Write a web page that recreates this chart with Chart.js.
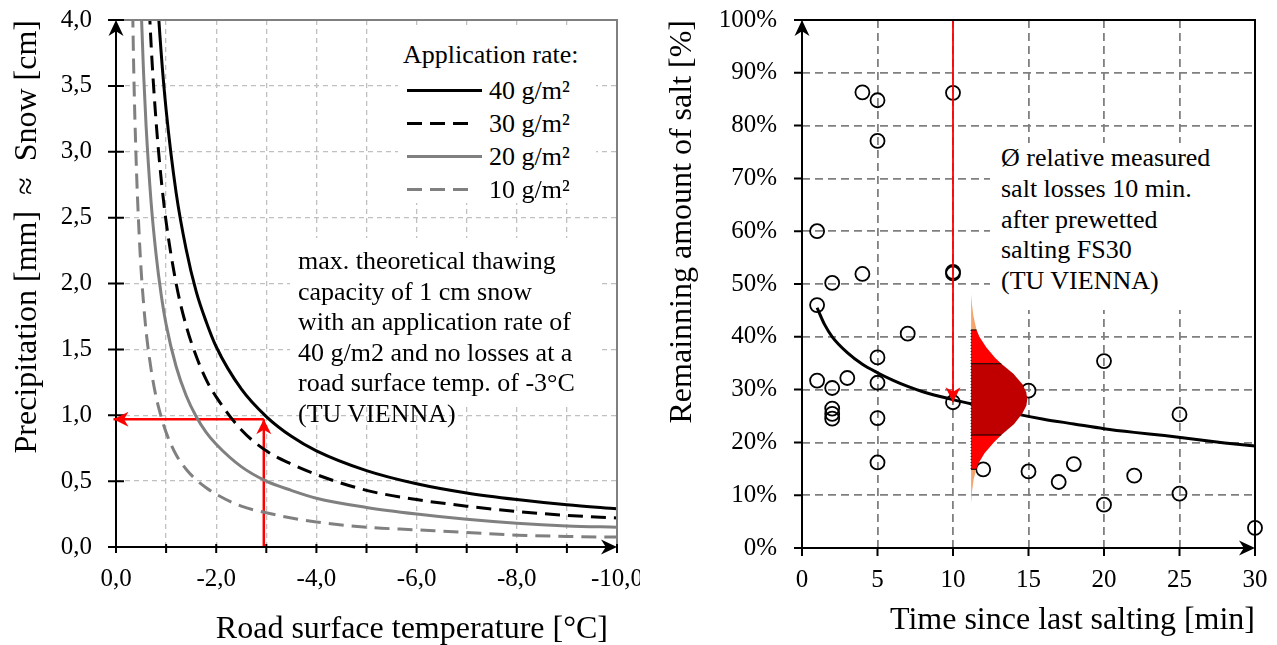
<!DOCTYPE html>
<html lang="en">
<head>
<meta charset="utf-8">
<title>Thawing capacity and salt losses</title>
<script src="https://cdn.jsdelivr.net/npm/chart.js@4.4.1/dist/chart.umd.min.js"></script>
<style>
    body { margin: 0; background: #fff; }
    #page { position: relative; width: 1277px; height: 645px; overflow: hidden;
            font-family: 'Liberation Serif', 'Times New Roman', serif; color: #000; }
    #page canvas { position: absolute; top: 0; }
    #snow-chart { left: 0; }
    #salt-chart { left: 640px; }
    .note { position: absolute; background: #fff; box-sizing: border-box;
            font-size: 26px; line-height: 30.5px; white-space: nowrap; }
    #note-snow { left: 290px; top: 238px; width: 308px; height: 167px; padding: 8px 0 0 8px; }
    #note-salt { left: 990px; top: 143px; width: 262px; height: 167px; padding: 0 0 0 11px; line-height: 30.8px; }
    #legend-rate-container { left: 398px; top: 28px; width: 198px; height: 175px; }
    #legend-rate-container .legend-title { position: absolute; left: 5px; top: 10px; line-height: 33px; }
    #legend-rate-container ul { position: absolute; left: 9px; top: 46px; margin: 0; padding: 0; list-style: none; }
    #legend-rate-container li { display: flex; align-items: center; height: 33px; }
    #legend-rate-container li svg { display: block; }
    #legend-rate-container li span { margin-left: 6px; line-height: 33px; }
    /* the reversed temperature axis puts Chart.js' end-aligned title on the wrong side */
    #snow-x-title { position: absolute; left: 190px; top: 609px; width: 418px; text-align: right;
                    font-size: 32px; line-height: 36px; white-space: nowrap; }
</style>
</head>
<body>
<div id="page">
    <canvas id="snow-chart" width="640" height="645"></canvas>
    <canvas id="salt-chart" width="637" height="645"></canvas>
    <div id="legend-rate-container" class="note">
        <div class="legend-title">Application rate:</div>
        <ul></ul>
    </div>
    <div id="note-snow" class="note">max. theoretical thawing<br>capacity of 1 cm snow<br>with an application rate of<br>40 g/m2 and no losses at a<br>road surface temp. of -3°C<br>(TU VIENNA)</div>
    <div id="note-salt" class="note">Ø relative measured<br>salt losses 10 min.<br>after prewetted<br>salting FS30<br>(TU VIENNA)</div>
    <div id="snow-x-title">Road surface temperature [°C]</div>
</div>
<script>
// ---- left chart: thawing capacity per application rate ----
const roadTemp = [-0.3, -0.35, -0.4, -0.45, -0.5, -0.55, -0.6, -0.7, -0.8, -0.9, -1.0, -1.2, -1.4, -1.6, -1.8,
    -2.0, -2.5, -3.0, -3.5, -4.0, -5.0, -6.0, -7.0, -8.0, -9.0, -10.0];
const snow40 = [null, null, null, null, null, 7.05, 6.27, 5.13, 4.34, 3.76, 3.32, 2.69, 2.26, 1.94, 1.71,
    1.52, 1.20, 0.99, 0.84, 0.73, 0.58, 0.48, 0.41, 0.36, 0.32, 0.29];
const snow30 = [null, null, null, null, 6.00, 5.25, 4.67, 3.82, 3.23, 2.80, 2.47, 2.00, 1.68, 1.45, 1.27,
    1.14, 0.89, 0.73, 0.63, 0.55, 0.43, 0.36, 0.31, 0.27, 0.24, 0.22];
const snow20 = [null, null, 5.76, 4.80, 4.11, 3.60, 3.20, 2.62, 2.22, 1.92, 1.69, 1.37, 1.15, 0.99, 0.87,
    0.78, 0.61, 0.50, 0.43, 0.37, 0.30, 0.25, 0.21, 0.18, 0.16, 0.15];
const snow10 = [4.93, 3.70, 2.96, 2.47, 2.11, 1.85, 1.64, 1.35, 1.14, 0.99, 0.87, 0.70, 0.59, 0.51, 0.45,
    0.40, 0.31, 0.26, 0.22, 0.19, 0.15, 0.13, 0.11, 0.09, 0.08, 0.075];
const rateLabels = ['40 g/m²', '30 g/m²', '20 g/m²', '10 g/m²'];
const thawTemp = -2.95;
const thawSnow = 0.97;
const thawArrowEnd = 0.05;

// ---- right chart: remaining salt after salting ----
const sampleTime = [1, 1, 1, 2, 2, 2, 2, 2, 3, 4, 4, 5, 5, 5, 5, 5, 5, 7, 10, 10, 10, 10, 12, 15, 15, 17, 18,
    20, 20, 22, 25, 25, 30];
const sampleSalt = [60.0, 46.0, 31.7, 50.2, 30.3, 26.4, 25.4, 24.5, 32.2, 86.3, 51.9, 84.8, 77.1, 36.1, 31.3,
    24.6, 16.2, 40.6, 86.2, 52.0, 52.3, 27.6, 14.9, 29.8, 14.5, 12.5, 15.9, 35.4, 8.2, 13.7, 25.3, 10.3, 3.8];
const trendTime = [1, 1.5, 2, 3, 4, 5, 6, 7, 8, 10, 12, 14, 16, 18, 20, 22, 24, 26, 28, 30];
const trendSalt = [45.5, 42.3, 40.0, 37.0, 34.8, 33.2, 31.8, 30.6, 29.6, 28.1, 26.8, 25.5, 24.4, 23.5, 22.6,
    21.9, 21.3, 20.6, 19.9, 19.3];
const bellSalt = [48.0, 46.0, 44.0, 41.3, 40.0, 38.0, 36.0, 34.9, 33.0, 31.0, 29.5, 28.2, 27.0, 25.5, 23.5,
    21.4, 20.0, 18.0, 16.0, 14.9, 13.0, 11.0, 8.4];
const bellSpread = [0, 0.06, 0.15, 0.36, 0.55, 1.0, 1.6, 2.0, 2.8, 3.4, 3.65, 3.72, 3.66, 3.4, 2.85,
    2.0, 1.5, 0.9, 0.48, 0.34, 0.17, 0.07, 0];
const bellBase = 11.2;
const bandLimits = [48.0, 41.3, 34.9, 21.4, 14.9, 8.4];
const readingTime = 10;
const readingSalt = [100, 27.6];

const SERIF = "'Liberation Serif', 'Times New Roman', serif";
const SVG_NS = 'http://www.w3.org/2000/svg';
Chart.defaults.font.family = SERIF;
Chart.defaults.color = '#000';

const decimalComma = v => v.toFixed(1).replace('.', ',');
const toPoints = (xs, ys) => xs.map((x, i) => ({x, y: ys[i]}));

// stealth arrow head, tip at (x, y)
const drawArrowHead = (ctx, x, y, angle, color, len, half) => {
    ctx.save();
    ctx.translate(x, y);
    ctx.rotate(angle);
    ctx.fillStyle = color;
    ctx.beginPath();
    ctx.moveTo(0, 0);
    ctx.lineTo(-len, -half);
    ctx.lineTo(-len * 0.7, 0);
    ctx.lineTo(-len, half);
    ctx.closePath();
    ctx.fill();
    ctx.restore();
};

// axes with arrows, frame, tick marks and arrow heads of marked datasets
const axisFramePlugin = {
    id: 'axisFrame',
    afterDatasetsDraw(chart, args, opts) {
        const {ctx, chartArea: a, scales: {x, y}} = chart;
        ctx.save();
        ctx.setLineDash([]);
        ctx.lineCap = 'butt';
        ctx.strokeStyle = opts.frameColor;
        ctx.lineWidth = 2;
        ctx.beginPath();
        ctx.moveTo(a.left, a.top);
        ctx.lineTo(a.right, a.top);
        ctx.lineTo(a.right, a.bottom);
        ctx.stroke();

        ctx.strokeStyle = '#000';
        ctx.beginPath();
        ctx.moveTo(a.left, a.bottom);
        ctx.lineTo(a.left, a.top + 8);
        ctx.moveTo(a.left, a.bottom);
        ctx.lineTo(a.right - 8, a.bottom);
        y.ticks.forEach(t => {
            const py = y.getPixelForValue(t.value);
            ctx.moveTo(a.left - opts.yTick[0], py);
            ctx.lineTo(a.left + opts.yTick[1], py);
        });
        x.ticks.forEach(t => {
            const px = x.getPixelForValue(t.value);
            ctx.moveTo(px, a.bottom - opts.xTick[0]);
            ctx.lineTo(px, a.bottom + opts.xTick[1]);
        });
        ctx.stroke();
        drawArrowHead(ctx, a.left, a.top, -Math.PI / 2, '#000', 16, 7.5);
        drawArrowHead(ctx, a.right, a.bottom, 0, '#000', 16, 7.5);

        chart.data.datasets.forEach((ds, i) => {
            if (!ds.arrowHead) return;
            const pts = chart.getDatasetMeta(i).data;
            const p = pts[pts.length - 1];
            const q = pts[pts.length - 2];
            drawArrowHead(ctx, p.x, p.y, Math.atan2(p.y - q.y, p.x - q.x), ds.borderColor, 15, 7.5);
        });
        ctx.restore();
    }
};

// legend box inside the plot, built from the labelled datasets
const htmlLegendPlugin = {
    id: 'htmlLegend',
    afterUpdate(chart, args, options) {
        const list = document.getElementById(options.containerID).querySelector('ul');
        while (list.firstChild) {
            list.firstChild.remove();
        }
        chart.data.datasets.filter(ds => ds.label).forEach(ds => {
            const li = document.createElement('li');
            const svg = document.createElementNS(SVG_NS, 'svg');
            svg.setAttribute('width', '76');
            svg.setAttribute('height', '33');
            const dashed = ds.borderDash && ds.borderDash.length;
            const line = document.createElementNS(SVG_NS, 'line');
            line.setAttribute('x1', '0');
            line.setAttribute('x2', dashed ? String(ds.borderDash[0] * 3 + ds.borderDash[1] * 2) : '75');
            line.setAttribute('y1', '16.5');
            line.setAttribute('y2', '16.5');
            line.setAttribute('stroke', ds.borderColor);
            line.setAttribute('stroke-width', ds.borderWidth);
            if (dashed) line.setAttribute('stroke-dasharray', ds.borderDash.join(' '));
            svg.appendChild(line);
            const text = document.createElement('span');
            text.textContent = ds.label;
            li.appendChild(svg);
            li.appendChild(text);
            list.appendChild(li);
        });
    }
};

const rateCurve = (label, values, color, dash) => ({
    label,
    data: toPoints(roadTemp, values),
    borderColor: color,
    borderWidth: 3,
    borderDash: dash,
    pointRadius: 0,
    cubicInterpolationMode: 'monotone',
    fill: false,
});

const redArrow = (data) => ({
    data,
    borderColor: '#ff0000',
    borderWidth: 2.5,
    pointRadius: 0,
    clip: false,
    arrowHead: true,
});

new Chart(document.getElementById('snow-chart'), {
    type: 'line',
    data: {
        datasets: [
            rateCurve(rateLabels[0], snow40, '#000000', []),
            rateCurve(rateLabels[1], snow30, '#000000', [15, 8]),
            rateCurve(rateLabels[2], snow20, '#808080', []),
            rateCurve(rateLabels[3], snow10, '#808080', [15, 8]),
            redArrow([{x: thawTemp, y: 0}, {x: thawTemp, y: thawSnow}]),
            redArrow([{x: thawTemp, y: thawSnow}, {x: thawArrowEnd, y: thawSnow}]),
        ]
    },
    options: {
        responsive: false,
        animation: false,
        events: [],
        layout: {padding: {top: 20, right: 23}},
        plugins: {
            legend: {display: false},
            tooltip: {enabled: false},
            htmlLegend: {containerID: 'legend-rate-container'},
            axisFrame: {frameColor: '#808080', yTick: [8, 8], xTick: [3, 6]},
        },
        scales: {
            x: {
                type: 'linear',
                min: -10,
                max: 0,
                reverse: true,
                ticks: {
                    stepSize: 1, autoSkip: false, maxRotation: 0, padding: 17, font: {size: 25},
                    callback: v => (v % 2 === 0 ? decimalComma(v) : ''),
                },
                grid: {color: '#c0c0c0', lineWidth: 1.3, drawTicks: false},
                border: {display: false, dash: [5, 4]},
                afterFit: s => { s.height = 98; s.paddingLeft = 0; s.paddingRight = 0; },
            },
            y: {
                min: 0,
                max: 4,
                ticks: {stepSize: 0.5, padding: 24, font: {size: 25}, callback: v => decimalComma(v)},
                grid: {color: '#c0c0c0', lineWidth: 1.3, drawTicks: false},
                border: {display: false, dash: [5, 4]},
                title: {display: true, text: 'Precipitation [mm]\u2002≈\u2002Snow [cm]', align: 'end',
                    font: {size: 32}, padding: {top: 8, bottom: 0}},
                afterFit: s => { s.width = 116; s.paddingTop = 0; s.paddingBottom = 0; },
            },
        },
    },
    plugins: [axisFramePlugin, htmlLegendPlugin],
});

// right chart: distribution bands of the measured losses
const bandColors = ['#f4a46c', '#ff0000', '#c00000', '#ff0000', '#f4a46c'];
const spreadAt = level => bellSpread[bellSalt.indexOf(level)];
const bandShape = (hi, lo) => {
    const edge = bellSalt
        .map((s, i) => ({x: bellBase + bellSpread[i], y: s}))
        .filter(p => p.y <= hi && p.y >= lo);
    return [...edge, {x: bellBase, y: lo}, {x: bellBase, y: hi}, edge[0]];
};

const bandDatasets = bandLimits.slice(0, -1).map((hi, i) => ({
    type: 'line',
    data: bandShape(hi, bandLimits[i + 1]),
    backgroundColor: bandColors[i],
    borderColor: 'rgba(0,0,0,0)',
    borderWidth: 0,
    fill: 'shape',
    pointRadius: 0,
    tension: 0,
    order: 1,
}));

const separatorDatasets = bandLimits.slice(1, -1).map(level => ({
    type: 'line',
    data: [{x: bellBase, y: level}, {x: bellBase + spreadAt(level), y: level}],
    borderColor: '#000',
    borderWidth: 1,
    pointRadius: 0,
    order: 0,
}));

new Chart(document.getElementById('salt-chart'), {
    type: 'scatter',
    data: {
        datasets: [
            ...separatorDatasets,
            {
                type: 'line',
                data: [{x: bellBase, y: bandLimits[1]}, {x: bellBase, y: bandLimits[4]}],
                borderColor: '#000',
                borderWidth: 1,
                borderDash: [1, 2],
                pointRadius: 0,
                order: 0,
            },
            ...bandDatasets,
            {
                type: 'line',
                data: readingSalt.map(s => ({x: readingTime, y: s})),
                borderColor: '#ff0000',
                borderWidth: 1.8,
                pointRadius: 0,
                arrowHead: true,
                order: 2,
            },
            {
                data: toPoints(sampleTime, sampleSalt),
                pointRadius: 7,
                borderWidth: 1.8,
                borderColor: '#000',
                backgroundColor: 'rgba(0,0,0,0)',
                clip: false,
                order: 3,
            },
            {
                type: 'line',
                data: toPoints(trendTime, trendSalt),
                borderColor: '#000',
                borderWidth: 3,
                pointRadius: 0,
                cubicInterpolationMode: 'monotone',
                order: 4,
            },
        ]
    },
    options: {
        responsive: false,
        animation: false,
        events: [],
        layout: {padding: {top: 20, right: 22}},
        plugins: {
            legend: {display: false},
            tooltip: {enabled: false},
            axisFrame: {frameColor: '#000', yTick: [8, 0], xTick: [0, 8]},
        },
        scales: {
            x: {
                min: 0,
                max: 30,
                ticks: {stepSize: 5, maxRotation: 0, padding: 17, font: {size: 25}},
                grid: {color: '#808080', lineWidth: 1.8, drawTicks: false},
                border: {display: false, dash: [8, 5]},
                title: {display: true, text: 'Time since last salting [min]', align: 'end',
                    font: {size: 32}, padding: {top: 0, bottom: 5}},
                afterFit: s => { s.height = 97; s.paddingLeft = 0; s.paddingRight = 0; },
            },
            y: {
                min: 0,
                max: 100,
                ticks: {stepSize: 10, padding: 25, font: {size: 25}, callback: v => v + '%'},
                grid: {color: '#808080', lineWidth: 1.8, drawTicks: false},
                border: {display: false, dash: [8, 5]},
                title: {display: true, text: 'Remainning amount of salt [%]', align: 'end',
                    font: {size: 32}, padding: {top: 23, bottom: 0}},
                afterFit: s => { s.width = 162; s.paddingTop = 0; s.paddingBottom = 0; },
            },
        },
    },
    plugins: [axisFramePlugin],
});
</script>
</body>
</html>
